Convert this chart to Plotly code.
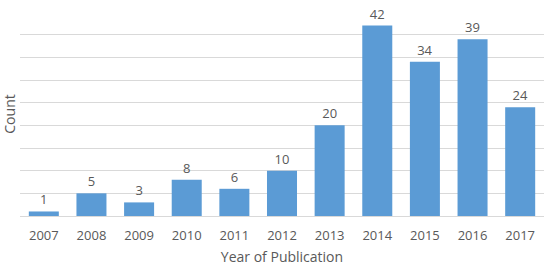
import plotly.graph_objects as go

years = ["2007", "2008", "2009", "2010", "2011", "2012", "2013", "2014", "2015", "2016", "2017"]
counts = [1, 5, 3, 8, 6, 10, 20, 42, 34, 39, 24]

font_family = "Open Sans, Liberation Sans, sans-serif"
text_color = "#595959"

fig = go.Figure(go.Bar(
    x=years, y=counts,
    marker=dict(color="#5b9bd5", line=dict(width=0)),
    text=[str(c) for c in counts],
    textposition="outside",
    textfont=dict(family=font_family, size=13, color=text_color),
    cliponaxis=False,
))

fig.update_layout(
    width=548, height=268,
    margin=dict(l=20, r=4, t=12, b=52),
    paper_bgcolor="white", plot_bgcolor="white",
    bargap=0.37,
    showlegend=False,
    font=dict(family=font_family, size=13, color=text_color),
)
fig.update_xaxes(
    type="category",
    showgrid=False, showline=True, linecolor="#d9d9d9", linewidth=1,
    ticks="outside", ticklen=7, tickcolor="rgba(0,0,0,0)",
    tickfont=dict(size=13, color=text_color),
    title=dict(text="Year of Publication", standoff=9, font=dict(size=14, color=text_color)),
    automargin=False,
)
fig.update_yaxes(
    range=[0, 45], dtick=5,
    showgrid=True, gridcolor="#d9d9d9", gridwidth=1,
    showticklabels=False, zeroline=False,
    title=dict(text="Count", standoff=0, font=dict(size=14, color=text_color)),
    automargin=False,
)

fig.write_html(
    "out.html",
    config={"displayModeBar": False},
    post_script="document.body.style.margin='0';document.body.style.overflow='hidden';",
)
